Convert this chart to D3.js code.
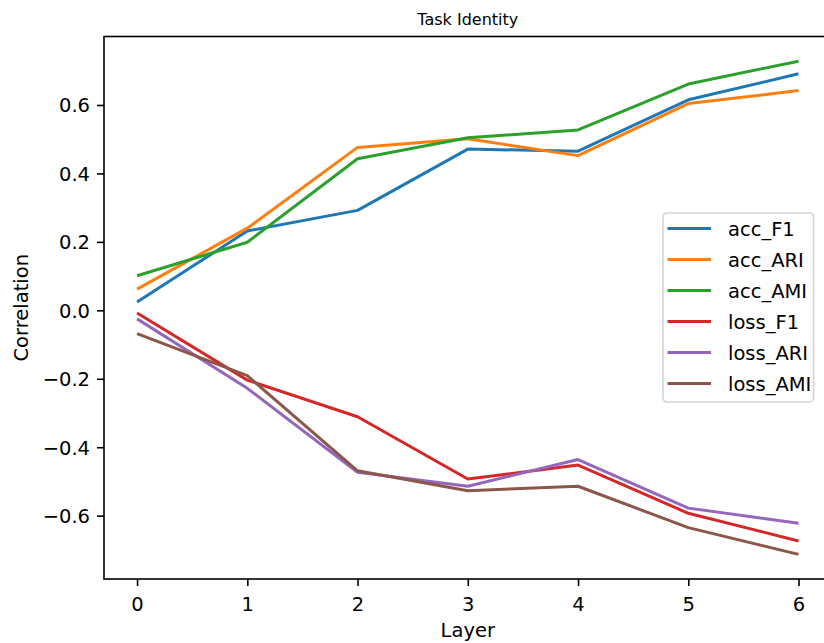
<!DOCTYPE html>
<html>
<head>
<meta charset="utf-8">
<script src="https://cdn.jsdelivr.net/npm/d3@7"></script>
<style>
  html, body { margin: 0; padding: 0; background: #fff; }
  svg { display: block; font-family: "DejaVu Sans", sans-serif; }
</style>
</head>
<body>
<svg id="chart" width="824" height="643"></svg>
<script>
// Correlation of each metric with task identity, per layer
const layers = [0, 1, 2, 3, 4, 5, 6];
const accF1   = [0.024, 0.232, 0.292, 0.471, 0.465, 0.615, 0.691];
const accARI  = [0.062, 0.240, 0.476, 0.501, 0.452, 0.604, 0.642];
const accAMI  = [0.101, 0.199, 0.443, 0.504, 0.527, 0.661, 0.728];
const lossF1  = [-0.008, -0.204, -0.311, -0.493, -0.452, -0.593, -0.674];
const lossARI = [-0.025, -0.228, -0.473, -0.514, -0.436, -0.578, -0.622];
const lossAMI = [-0.068, -0.191, -0.469, -0.527, -0.514, -0.635, -0.713];
const seriesNames = ["acc_F1", "acc_ARI", "acc_AMI", "loss_F1", "loss_ARI", "loss_AMI"];
const yTicks = [-0.6, -0.4, -0.2, 0.0, 0.2, 0.4, 0.6];

const seriesValues = [accF1, accARI, accAMI, lossF1, lossARI, lossAMI];
const colors = ["#1f77b4", "#ff7f0e", "#2ca02c", "#d62728", "#9467bd", "#8c564b"];
const series = seriesNames.map((name, i) => ({ name, values: seriesValues[i], color: colors[i] }));

const svg = d3.select("#chart");
const plot = { left: 104, right: 831.6, top: 36.5, bottom: 579 };
const fontSize = 19.5;

// 5% padding on both axes
const xPad = (d3.max(layers) - d3.min(layers)) * 0.05;
const x = d3.scaleLinear()
  .domain([d3.min(layers) - xPad, d3.max(layers) + xPad])
  .range([plot.left, plot.right]);

const allVals = seriesValues.flat();
const [yMin, yMax] = d3.extent(allVals);
const yPad = (yMax - yMin) * 0.05;
const y = d3.scaleLinear()
  .domain([yMin - yPad, yMax + yPad])
  .range([plot.bottom, plot.top]);

// Series lines
const line = d3.line().x((d, i) => x(layers[i])).y(d => y(d));
svg.append("g").selectAll("path")
  .data(series)
  .join("path")
  .attr("d", d => line(d.values))
  .attr("fill", "none")
  .attr("stroke", d => d.color)
  .attr("stroke-width", 3)
  .attr("stroke-linejoin", "round")
  .attr("stroke-linecap", "butt");

// Axes frame
svg.append("rect")
  .attr("x", plot.left).attr("y", plot.top)
  .attr("width", plot.right - plot.left).attr("height", plot.bottom - plot.top)
  .attr("fill", "none").attr("stroke", "#000").attr("stroke-width", 1.6);

// X axis
const xAxis = d3.axisBottom(x).tickValues(layers).tickFormat(d3.format("d"))
  .tickSizeInner(7).tickSizeOuter(0).tickPadding(4);
const gx = svg.append("g").attr("transform", `translate(0,${plot.bottom})`).call(xAxis);
gx.select(".domain").remove();
gx.selectAll(".tick line").attr("stroke", "#000").attr("stroke-width", 1.6);
gx.selectAll(".tick text")
  .attr("font-family", "DejaVu Sans").attr("font-size", fontSize).attr("fill", "#000")
  .attr("dy", null).attr("y", 32);

// Y axis
const yAxis = d3.axisLeft(y).tickValues(yTicks).tickFormat(d3.format(".1f"))
  .tickSizeInner(7).tickSizeOuter(0).tickPadding(7);
const gy = svg.append("g").attr("transform", `translate(${plot.left},0)`).call(yAxis);
gy.select(".domain").remove();
gy.selectAll(".tick line").attr("stroke", "#000").attr("stroke-width", 1.6);
gy.selectAll(".tick text")
  .text(d => d3.format(".1f")(d).replace("-", "\u2212"))
  .attr("font-family", "DejaVu Sans").attr("font-size", fontSize).attr("fill", "#000")
  .attr("dy", "0.36em");

// Axis labels and title
svg.append("text")
  .attr("x", (plot.left + plot.right) / 2).attr("y", 637)
  .attr("text-anchor", "middle").attr("font-size", fontSize).attr("fill", "#000")
  .text("Layer");
svg.append("text")
  .attr("transform", `translate(28,${(plot.top + plot.bottom) / 2}) rotate(-90)`)
  .attr("text-anchor", "middle").attr("font-size", fontSize).attr("fill", "#000")
  .text("Correlation");
svg.append("text")
  .attr("x", (plot.left + plot.right) / 2).attr("y", 25)
  .attr("text-anchor", "middle").attr("font-size", 16).attr("fill", "#000")
  .text("Task Identity");

// Legend
const legend = svg.append("g").attr("transform", "translate(663,213)");
legend.append("rect")
  .attr("width", 150.5).attr("height", 189).attr("rx", 4)
  .attr("fill", "#fff").attr("fill-opacity", 0.8)
  .attr("stroke", "#d5d5d5").attr("stroke-width", 1.6);
const rowH = 31;
const items = legend.selectAll("g.item").data(series).join("g")
  .attr("class", "item")
  .attr("transform", (d, i) => `translate(0,${15.5 + i * rowH})`);
items.append("line")
  .attr("x1", 4.5).attr("x2", 48).attr("y1", 0).attr("y2", 0)
  .attr("stroke", d => d.color).attr("stroke-width", 3);
items.append("text")
  .attr("x", 65).attr("y", 7.5)
  .attr("font-size", fontSize).attr("fill", "#000")
  .text(d => d.name);
</script>
</body>
</html>
